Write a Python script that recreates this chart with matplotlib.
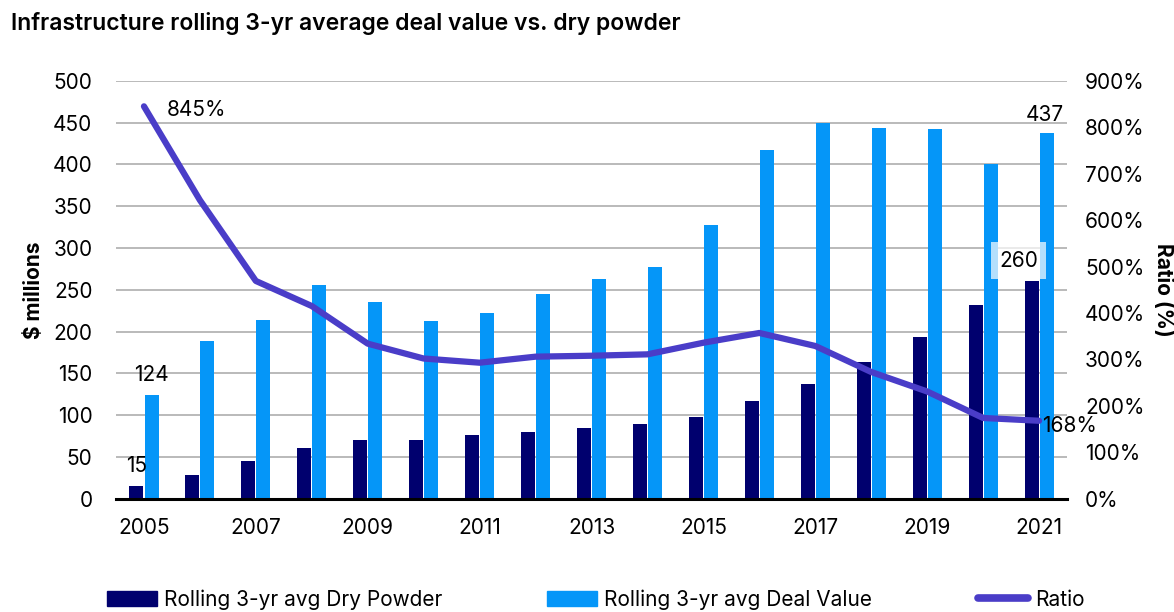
import numpy as np
import matplotlib
matplotlib.use("Agg")
import matplotlib.pyplot as plt
from matplotlib.patches import Patch
from matplotlib.lines import Line2D

plt.rcParams['font.family'] = ['Inter', 'DejaVu Sans']

years = list(range(2005, 2022))
dry_powder = [15, 28, 45, 61, 70, 70, 76, 80, 85, 89, 98, 117, 137, 164, 193, 232, 260]
deal_value = [124, 189, 214, 256, 235, 213, 222, 245, 263, 277, 327, 417, 449, 444, 442, 400, 437]
ratio = [845, 643, 469, 415, 334, 302, 293, 306, 308, 311, 336, 357, 329, 273, 231, 174, 168]
xtick_labels = ['2005', '2007', '2009', '2011', '2013', '2015', '2017', '2019', '2021']

dark = '#00006E'
light = '#0596F8'
purple = '#4A3DC8'

fig = plt.figure(figsize=(11.74, 6.12), dpi=100)
ax = fig.add_axes([0.0988, 0.185, 0.8101, 0.683])
ax2 = ax.twinx()

x = np.arange(len(years))
w = 0.25
ax.bar(x - 0.135, dry_powder, w, color=dark, zorder=3)
ax.bar(x + 0.135, deal_value, w, color=light, zorder=3)
ax.set_xlim(-0.5, len(years) - 0.5)
ax.set_ylim(0, 500)
ax.set_yticks(range(0, 501, 50))
ax.yaxis.grid(True, color='#B4B4B4', linewidth=1.3, zorder=0)
ax.set_axisbelow(True)
ax.set_xticks(x[::2])
ax.set_xticklabels(xtick_labels)
ax.tick_params(axis='both', length=0, labelsize=15)
ax.tick_params(axis='y', pad=17)
ax.tick_params(axis='x', pad=14)
for s in ['top', 'right', 'left']:
    ax.spines[s].set_visible(False)
ax.spines['bottom'].set_color('black')
ax.spines['bottom'].set_linewidth(2.2)
ax.spines['bottom'].set_zorder(5)
ax.set_ylabel('$ millions', fontsize=15, fontweight='bold', labelpad=6)

ax2.plot(x, ratio, color=purple, linewidth=4.5, zorder=4, solid_capstyle='round')
ax2.set_ylim(0, 900)
ax2.set_yticks(range(0, 901, 100))
ax2.set_yticklabels([f'{v}%' for v in range(0, 901, 100)])
ax2.tick_params(axis='y', length=0, labelsize=15, pad=13)
for s in ax2.spines.values():
    s.set_visible(False)
ax2.set_ylabel('Ratio (%)', fontsize=15, fontweight='bold', rotation=270, labelpad=20)

# data labels
n = len(years) - 1
ax.text(0.135, deal_value[0] + 12, str(deal_value[0]), ha='center', va='bottom', fontsize=15, zorder=6)
ax.text(-0.135, dry_powder[0] + 12, str(dry_powder[0]), ha='center', va='bottom', fontsize=15, zorder=6)
ax.text(n + 0.1, deal_value[-1] + 10, str(deal_value[-1]), ha='center', va='bottom', fontsize=15, zorder=6)
ax.text(n - 0.37, 285, str(dry_powder[-1]), ha='center', va='center', fontsize=15, zorder=6,
        bbox=dict(facecolor='white', alpha=0.7, edgecolor='none', pad=6))
ax2.text(0.4, ratio[0] - 8, f'{ratio[0]}%', ha='left', va='center', fontsize=15, zorder=6)
ax2.text(n + 0.05, ratio[-1] - 12, f'{ratio[-1]}%', ha='left', va='center', fontsize=15, zorder=6)

fig.text(0.009, 0.962, 'Infrastructure rolling 3-yr average deal value vs. dry powder',
         fontsize=16.5, fontweight='semibold', va='center', ha='left')

leg_kw = dict(frameon=False, fontsize=15, handlelength=2.4, handleheight=0.75, handletextpad=0.35,
              loc='center left', borderaxespad=0)
fig.legend(handles=[Patch(color=dark)], labels=['Rolling 3-yr avg Dry Powder'],
           bbox_to_anchor=(0.084, 0.02), **leg_kw)
fig.legend(handles=[Patch(color=light)], labels=['Rolling 3-yr avg Deal Value'],
           bbox_to_anchor=(0.459, 0.02), **leg_kw)
fig.legend(handles=[Line2D([], [], color=purple, linewidth=5.5, solid_capstyle='round')], labels=['Ratio'],
           bbox_to_anchor=(0.826, 0.02), **leg_kw)

fig.savefig('out.png', dpi=100)
